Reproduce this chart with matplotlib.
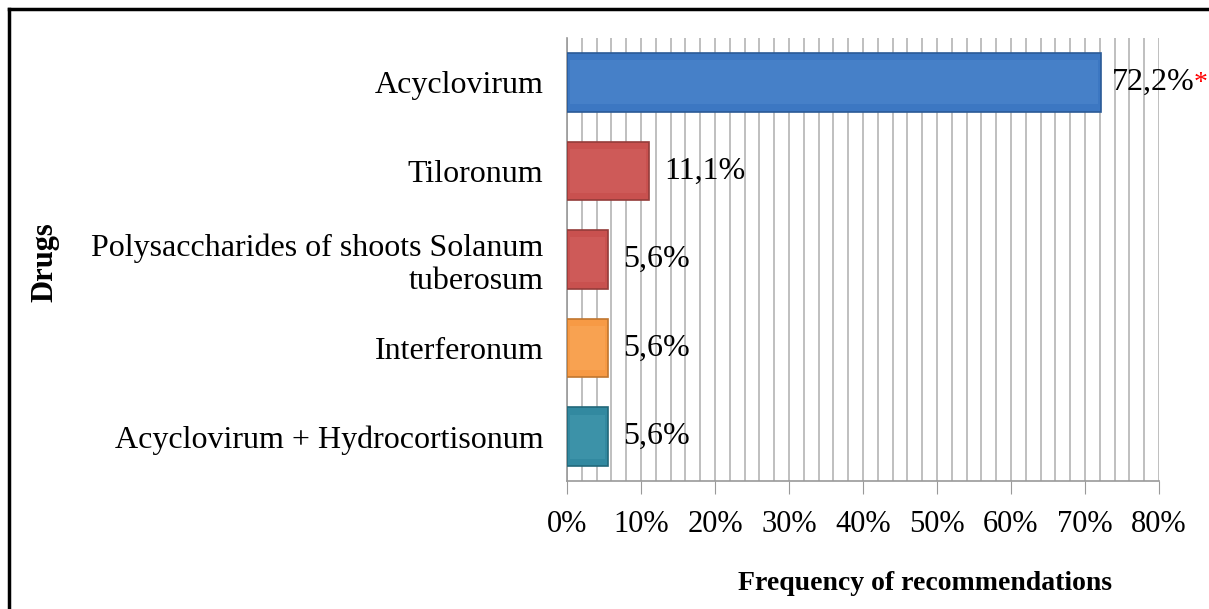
import matplotlib
matplotlib.use("Agg")
import matplotlib.pyplot as plt
from matplotlib.lines import Line2D
from matplotlib.ticker import MultipleLocator, FuncFormatter

categories = ["Acyclovirum", "Tiloronum",
              "Polysaccharides of shoots Solanum\ntuberosum",
              "Interferonum", "Acyclovirum + Hydrocortisonum"]
values = [72.2, 11.1, 5.6, 5.6, 5.6]
labels = ["72,2%", "11,1%", "5,6%", "5,6%", "5,6%"]
colors = ["#3C77C2", "#C9514F", "#C9514F", "#F79A45", "#3289A0"]
edges = ["#2A5A96", "#943C3A", "#943C3A", "#C0762F", "#22687A"]
highlights = ["#5B93D6", "#DA6B69", "#DA6B69", "#FBB26A", "#4FA3B8"]

plt.rcParams['font.family'] = ['Liberation Serif', 'DejaVu Serif']

W, H = 1209, 609
fig = plt.figure(figsize=(W/100, H/100), dpi=100)
ax = fig.add_axes([567/W, 1-481/H, (1159-567)/W, (481-38)/H])

y = list(range(len(categories)))
ax.barh(y, values, height=0.66, color=colors, edgecolor=edges, linewidth=1.2, zorder=3)
ax.barh(y, [v - 0.9 for v in values], left=0.45, height=0.50, color=highlights,
        edgecolor='none', alpha=0.35, zorder=4)

ax.set_xlim(0, 80)
ax.set_ylim(len(categories) - 0.5, -0.5)
ax.set_yticks(y)
ax.set_yticklabels(categories, fontsize=23, linespacing=1.15)
ax.xaxis.set_major_locator(MultipleLocator(10))
ax.xaxis.set_minor_locator(MultipleLocator(2))
ax.xaxis.set_major_formatter(FuncFormatter(lambda v, p: f"{int(v)}%"))
ax.tick_params(axis='x', which='major', length=9, color='#999999', labelsize=22, pad=12)
ax.tick_params(axis='x', which='minor', length=0)
ax.tick_params(axis='y', length=0, pad=17)
ax.grid(axis='x', which='both', color='#B4B4B4', linewidth=1.2, zorder=0)
for s in ['top', 'right']:
    ax.spines[s].set_visible(False)
ax.spines['left'].set_color('#999999')
ax.spines['bottom'].set_color('#999999')
ax.spines['left'].set_linewidth(1.2)
ax.spines['bottom'].set_linewidth(1.2)

for i, (v, lab) in enumerate(zip(values, labels)):
    off = 1.4 if i == 0 else 2.0
    t = ax.text(v + off, i, lab, va='center', ha='left', fontsize=23, zorder=5)
    if i == 0:
        fig.canvas.draw()
        bb = t.get_window_extent()
        fig.text((bb.x1 - 1) / W, bb.y1 / H - 0.006, "*", color='red',
                 fontsize=20, va='top', ha='left')

fig.text(45/W, 1-262/H, "Drugs", rotation=90, fontsize=22, fontweight='bold',
         va='center', ha='center')
fig.text(925/W, 1-583/H, "Frequency of recommendations", fontsize=20,
         fontweight='bold', va='center', ha='center')

fig.add_artist(Line2D([9/W, 9/W], [0, 1-9/H], transform=fig.transFigure,
                      color='black', linewidth=2.5))
fig.add_artist(Line2D([9/W, 1], [1-9/H, 1-9/H], transform=fig.transFigure,
                      color='black', linewidth=2.5))

fig.savefig("out.png", dpi=100)
